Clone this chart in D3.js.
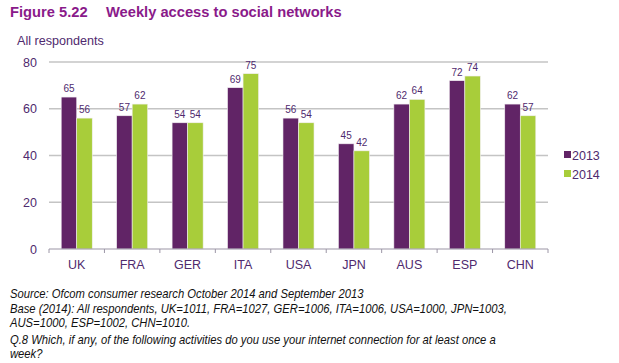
<!DOCTYPE html>
<html>
<head>
<meta charset="utf-8">
<script src="https://cdn.jsdelivr.net/npm/d3@7"></script>
<style>
  body { margin: 0; background: #fff; }
  svg text { font-family: "Liberation Sans", Arial, sans-serif; }
</style>
</head>
<body>
<div id="chart"></div>
<script>
// Chart data
const countries = ["UK", "FRA", "GER", "ITA", "USA", "JPN", "AUS", "ESP", "CHN"];
const years = ["2013", "2014"];
const values2013 = [65, 57, 54, 69, 56, 45, 62, 72, 62];
const values2014 = [56, 62, 54, 75, 54, 42, 64, 74, 57];
const yTicks = [0, 20, 40, 60, 80];
const footnotes = [
  "Source: Ofcom consumer research October 2014 and September 2013",
  "Base (2014): All respondents, UK=1011, FRA=1027, GER=1006, ITA=1006, USA=1000, JPN=1003,",
  "AUS=1000, ESP=1002, CHN=1010.",
  "Q.8 Which, if any, of the following activities do you use your internet connection for at least once a",
  "week?"
];

const colors = {"2013": "#612466", "2014": "#a8cd3a"};
const textColor = "#4f2a6e";

const W = 619, H = 363;
const plot = {left: 49, right: 548, top: 62, bottom: 249};

const svg = d3.select("#chart").append("svg")
  .attr("width", W)
  .attr("height", H);

// Title
const title = svg.append("text")
  .attr("x", 10).attr("y", 17)
  .attr("fill", "#8a1a8a")
  .style("font-weight", "bold")
  .style("font-size", "14.7px");
title.append("tspan").text("Figure 5.22");
title.append("tspan").attr("x", 106).text("Weekly access to social networks");

svg.append("text")
  .attr("x", 17).attr("y", 45)
  .attr("fill", textColor)
  .style("font-size", "12.6px")
  .text("All respondents");

// Scales
const x = d3.scaleBand()
  .domain(countries)
  .range([plot.left, plot.right])
  .paddingInner(0.44)
  .paddingOuter(0.22);

const xSub = d3.scaleBand()
  .domain(years)
  .range([0, x.bandwidth()]);

const y = d3.scaleLinear()
  .domain([0, 80])
  .range([plot.bottom, plot.top]);

// gridlines
svg.append("g")
  .selectAll("line")
  .data(yTicks.filter(d => d > 0))
  .join("line")
    .attr("x1", plot.left).attr("x2", plot.right)
    .attr("y1", d => y(d)).attr("y2", d => y(d))
    .attr("stroke", "#c4c4c4")
    .attr("stroke-width", 1.6);

// Y tick labels
svg.append("g")
  .selectAll("text")
  .data(yTicks)
  .join("text")
    .attr("x", 37)
    .attr("y", d => y(d) + 4.5)
    .attr("text-anchor", "end")
    .attr("fill", textColor)
    .style("font-size", "12.5px")
    .text(d => d);

// Bars
const series = years.map((yr, i) => ({
  year: yr,
  values: (i === 0 ? values2013 : values2014)
}));

const groups = svg.append("g")
  .selectAll("g")
  .data(series)
  .join("g")
    .attr("fill", d => colors[d.year]);

groups.selectAll("rect")
  .data(s => s.values.map((v, i) => ({year: s.year, country: countries[i], value: v})))
  .join("rect")
    .attr("x", d => x(d.country) + xSub(d.year))
    .attr("y", d => y(d.value))
    .attr("width", xSub.bandwidth())
    .attr("height", d => y(0) - y(d.value))
    .attr("stroke", "#f2eef2")
    .attr("stroke-width", 0.6);

// value labels
groups.selectAll("text")
  .data(s => s.values.map((v, i) => ({year: s.year, country: countries[i], value: v})))
  .join("text")
    .attr("x", d => x(d.country) + xSub(d.year) + xSub.bandwidth() / 2)
    .attr("y", d => y(d.value) - 5)
    .attr("text-anchor", "middle")
    .attr("fill", textColor)
    .style("font-size", "10px")
    .text(d => d.value);

// X axis
const bounds = d3.range(countries.length + 1).map(i => plot.left + i * (plot.right - plot.left) / countries.length);
const axis = svg.append("g");
axis.append("line")
  .attr("x1", plot.left).attr("x2", plot.right)
  .attr("y1", plot.bottom).attr("y2", plot.bottom)
  .attr("stroke", "#9c96a6")
  .attr("stroke-width", 1.2);
axis.selectAll(".tick")
  .data(bounds)
  .join("line")
    .attr("class", "tick")
    .attr("x1", d => d).attr("x2", d => d)
    .attr("y1", plot.bottom).attr("y2", plot.bottom + 4)
    .attr("stroke", "#9c96a6");

axis.selectAll("text")
  .data(countries)
  .join("text")
    .attr("x", d => x(d) + x.bandwidth() / 2)
    .attr("y", 269)
    .attr("text-anchor", "middle")
    .attr("fill", textColor)
    .style("font-size", "12.5px")
    .text(d => d);

// Legend
const legend = svg.append("g")
  .selectAll("g")
  .data(years)
  .join("g")
    .attr("transform", (d, i) => `translate(564, ${155 + i * 19})`);
legend.append("rect")
  .attr("x", 0).attr("y", -4)
  .attr("width", 7).attr("height", 7)
  .attr("fill", d => colors[d]);
legend.append("text")
  .attr("x", 8).attr("y", 4.5)
  .attr("fill", textColor)
  .style("font-size", "12.5px")
  .text(d => d);

// Footnotes (the source font is a narrow one, so squeeze horizontally)
const footY = [298, 313, 327, 344, 358];
svg.append("g")
  .attr("transform", "translate(10,0) scale(0.9,1)")
  .selectAll("text")
  .data(footnotes)
  .join("text")
    .attr("x", 0)
    .attr("y", (d, i) => footY[i])
    .attr("fill", "#111")
    .style("font-size", "12.5px")
    .style("font-style", "italic")
    .text(d => d);
</script>
</body>
</html>
